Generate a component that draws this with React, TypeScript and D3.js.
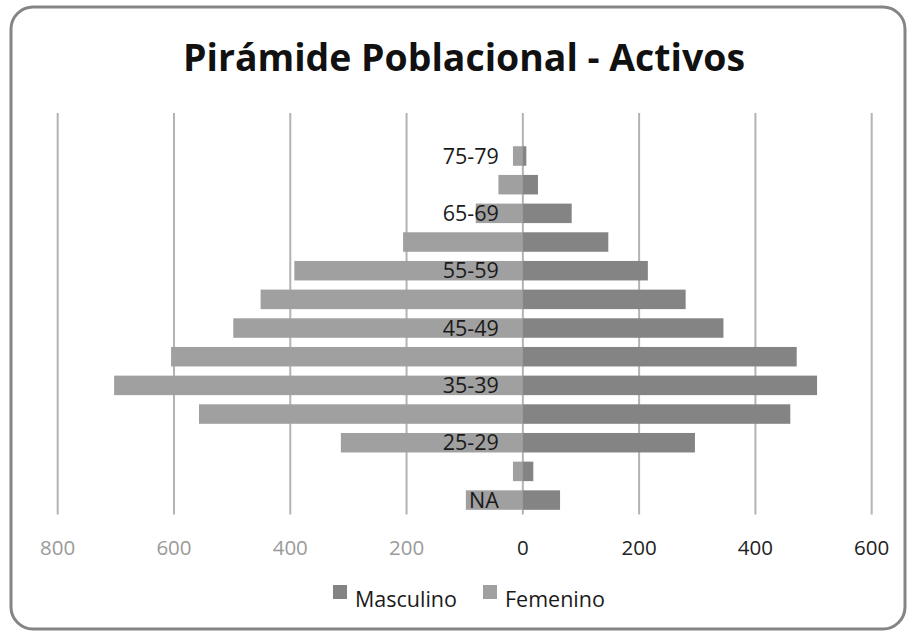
import React from "react";
import * as d3 from "d3";

const categories = ["NA", "20-24", "25-29", "30-34", "35-39", "40-44", "45-49", "50-54", "55-59", "60-64", "65-69", "70-74", "75-79", "80+"];
const categoryLabels = ["NA", "", "25-29", "", "35-39", "", "45-49", "", "55-59", "", "65-69", "", "75-79", ""];
const masculino = [64, 18, 296, 460, 506, 471, 345, 280, 215, 147, 84, 26, 6, 0];
const femenino = [98, 17, 313, 557, 703, 605, 498, 451, 393, 206, 81, 42, 17, 0];
const tickValues = [-800, -600, -400, -200, 0, 200, 400, 600];
const seriesNames = ["Masculino", "Femenino"];
const title = "Pirámide Poblacional - Activos";

const W = 910;
const H = 635;
const FONT = "'Open Sans', 'DejaVu Sans', sans-serif";
const MALE = "#848484";
const FEMALE = "#a0a0a0";

export default function App() {
  const x = d3.scaleLinear().domain([-800, 600]).range([57.7, 871.7]);
  const y = d3
    .scaleBand<string>()
    .domain([...categories].reverse())
    .range([113, 514.4])
    .paddingInner(0.32)
    .paddingOuter(0.16);
  const bh = y.bandwidth();
  const x0 = x(0);

  return (
    <svg
      width={W}
      height={H}
      style={{ position: "absolute", left: 0, top: 0, background: "#fff" }}
      fontFamily={FONT}
    >
      <rect x={0} y={0} width={W} height={H} fill="#fff" />
      <rect x={11} y={7} width={894} height={622} rx={22} ry={22} fill="#fff" stroke="#858585" strokeWidth={3} />
      <text
        x={464}
        y={71}
        textAnchor="middle"
        fontSize={37}
        fontWeight={700}
        fill="#111"
        textLength={562}
        lengthAdjust="spacingAndGlyphs"
      >
        {title}
      </text>
      {tickValues.map((t) => (
        <line key={"g" + t} x1={x(t)} x2={x(t)} y1={113} y2={514.4} stroke="#b3b3b3" strokeWidth={2} />
      ))}
      {categories.map((c, i) => (
        <g key={c}>
          <rect x={x(-femenino[i])} y={y(c)!} width={x0 - x(-femenino[i])} height={bh} fill={FEMALE} />
          <rect x={x0} y={y(c)!} width={x(masculino[i]) - x0} height={bh} fill={MALE} />
        </g>
      ))}
      {categories.map((c, i) =>
        categoryLabels[i] ? (
          <text
            key={"l" + c}
            x={x0 - 24}
            y={y(c)! + bh / 2}
            dy="0.35em"
            textAnchor="end"
            fontSize={21.5}
            fill="#1a1a1a"
          >
            {categoryLabels[i]}
          </text>
        ) : null
      )}
      {tickValues.map((t) => (
        <text
          key={"t" + t}
          x={x(t)}
          y={555}
          textAnchor="middle"
          fontSize={20.5}
          fill={t < 0 ? "#9a9a9a" : "#222"}
        >
          {Math.abs(t)}
        </text>
      ))}
      <g>
        <rect x={333} y={585} width={14} height={14} fill={MALE} />
        <text x={355} y={607} fontSize={21.5} fill="#1a1a1a">
          {seriesNames[0]}
        </text>
        <rect x={483} y={585} width={14} height={14} fill={FEMALE} />
        <text x={505} y={607} fontSize={21.5} fill="#1a1a1a">
          {seriesNames[1]}
        </text>
      </g>
    </svg>
  );
}
